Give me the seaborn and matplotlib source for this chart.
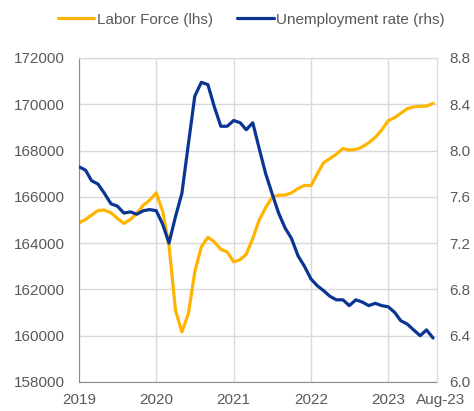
import pandas as pd
import matplotlib.pyplot as plt
import matplotlib.dates as mdates
import seaborn as sns

# Monthly data, Jan 2019 - Aug 2023
months = pd.date_range("2019-01-01", "2023-08-01", freq="MS")

labor_force = [
    164880, 165020, 165210, 165410, 165425, 165310, 165070, 164850, 165020, 165280, 165640, 165860,
    166170, 165350, 163910, 161100, 160160, 160960, 162760, 163840, 164250, 164060, 163730, 163620,
    163190, 163290, 163520, 164200, 164990, 165540, 165980, 166070, 166080, 166170, 166360, 166490,
    166490, 167010, 167470, 167660, 167850, 168090, 168020, 168050, 168160, 168340, 168570, 168890,
    169290, 169430, 169610, 169810, 169890, 169910, 169920, 170040,
]

unemployment = [
    7.86, 7.83, 7.74, 7.71, 7.63, 7.54, 7.52, 7.46, 7.47, 7.45, 7.48, 7.49,
    7.48, 7.36, 7.20, 7.43, 7.63, 8.06, 8.47, 8.59, 8.57, 8.38, 8.21, 8.21,
    8.26, 8.24, 8.18, 8.24, 8.02, 7.80, 7.63, 7.46, 7.33, 7.24, 7.09, 7.00,
    6.89, 6.83, 6.79, 6.74, 6.71, 6.71, 6.66, 6.71, 6.69, 6.66, 6.68, 6.66,
    6.65, 6.60, 6.53, 6.50, 6.45, 6.40, 6.45, 6.38,
]

df = pd.DataFrame({"month": months, "labor": labor_force, "unemp": unemployment})

sns.set_style("white")
plt.rcParams["font.family"] = ["Liberation Sans", "DejaVu Sans"]

ORANGE = "#FFB500"
BLUE = "#0A3593"
GRID = "#D9D9D9"
TXT = "#595959"

fig = plt.figure(figsize=(4.74, 4.11), dpi=100)
ax = fig.add_axes([0.1667, 0.0706, 0.7546, 0.7883])
ax2 = ax.twinx()

sns.lineplot(data=df, x="month", y="labor", ax=ax, color=ORANGE, linewidth=2.3,
             label="Labor Force (lhs)", legend=False)
sns.lineplot(data=df, x="month", y="unemp", ax=ax2, color=BLUE, linewidth=2.3,
             label="Unemployment rate (rhs)", legend=False)

ax.set_ylim(158000, 172000)
ax.set_yticks(range(158000, 172001, 2000))
ax2.set_ylim(6.0, 8.8)
ax2.set_yticks([6.0, 6.4, 6.8, 7.2, 7.6, 8.0, 8.4, 8.8])
ax2.set_yticklabels([f"{v:.1f}" for v in ax2.get_yticks()])

ax.set_xlim(pd.Timestamp("2019-01-01"), pd.Timestamp("2023-08-18"))
ax.xaxis.set_major_locator(mdates.YearLocator())
ax.xaxis.set_major_formatter(mdates.DateFormatter("%Y"))

ax.grid(True, color=GRID, linewidth=1)
ax.set_axisbelow(True)
ax2.grid(False)
ax.set_xlabel("")
ax.set_ylabel("")
ax2.set_ylabel("")

for a in (ax, ax2):
    a.tick_params(labelsize=11, labelcolor=TXT, length=0)
    for s in ("top", "right"):
        a.spines[s].set_color(GRID)
    for s in ("left", "bottom"):
        a.spines[s].set_color("#8C8C8C")
ax2.spines["left"].set_visible(False)
ax2.spines["bottom"].set_visible(False)
ax.tick_params(axis="x", length=3, color="#8C8C8C", pad=5)
ax.tick_params(axis="y", pad=10)
ax2.tick_params(axis="y", pad=9)

# last-month label at the right end of the x axis
ax.annotate("Aug-23", xy=(1.01, 0), xycoords="axes fraction", xytext=(0, -8),
            textcoords="offset points", ha="center", va="top", fontsize=11, color=TXT)

h1, l1 = ax.get_legend_handles_labels()
h2, l2 = ax2.get_legend_handles_labels()
fig.legend(h1 + h2, l1 + l2, loc="upper center", bbox_to_anchor=(0.53, 1.003), ncol=2,
           frameon=False, fontsize=11, handlelength=2.4, handletextpad=0.15,
           columnspacing=1.6, labelcolor=TXT)

plt.savefig("out.png", dpi=100)
